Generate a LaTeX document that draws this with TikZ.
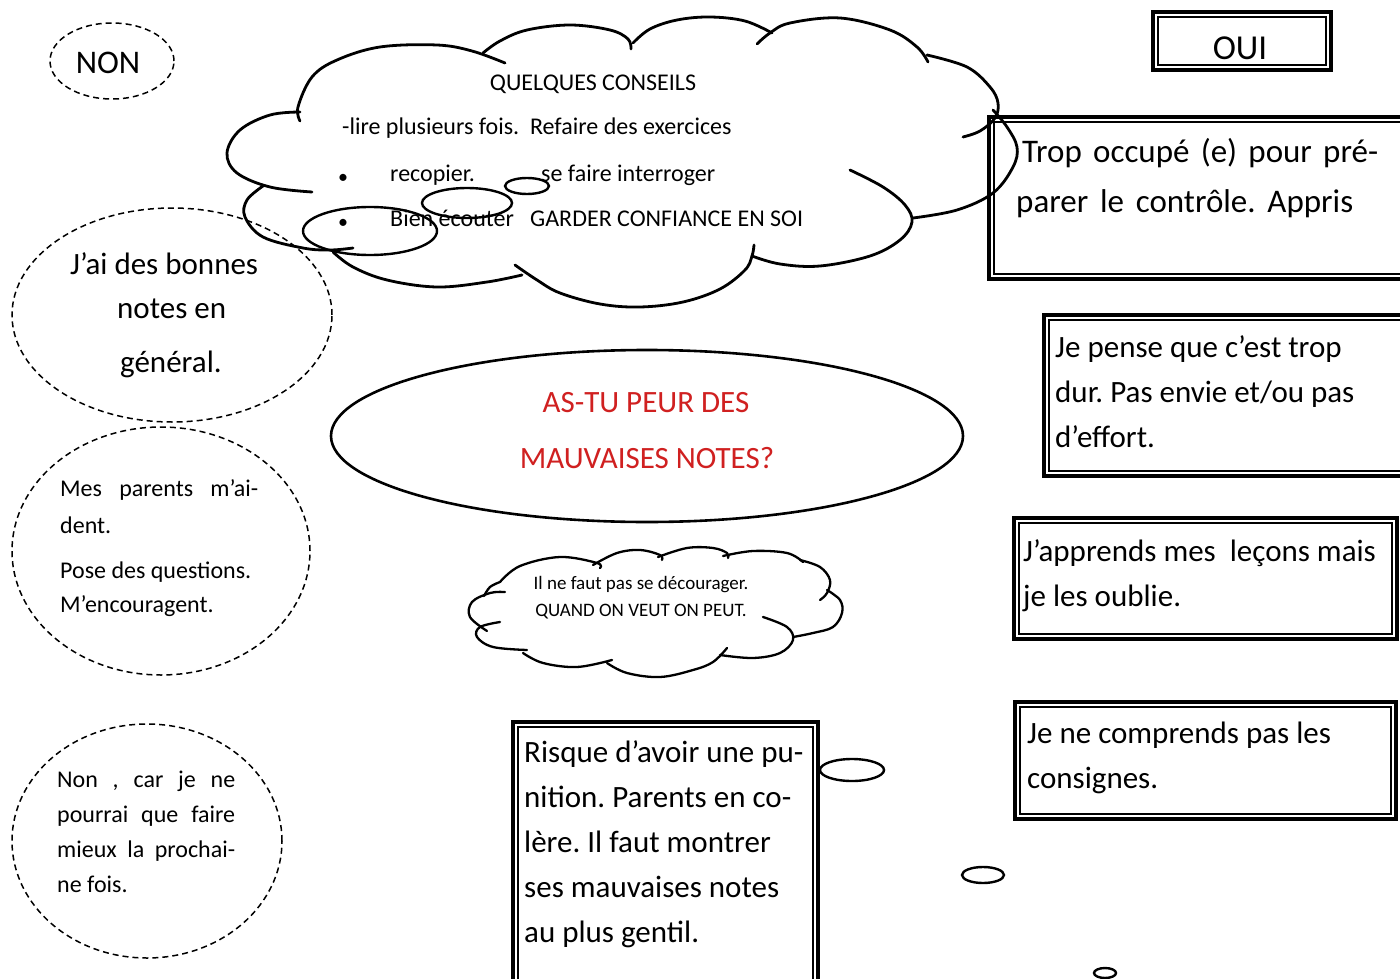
\documentclass[tikz,border=0pt]{standalone}
\usepackage{fontspec}
\setmainfont{Carlito}
\usetikzlibrary{shapes.geometric}
\definecolor{qred}{RGB}{208,32,32}
\frenchspacing
\begin{document}
\begin{tikzpicture}[x=1pt,y=-1pt,
 lobe/.style={line width=2.8pt, line cap=round, line join=round},
 slobe/.style={line width=2.3pt, line cap=round, line join=round},
 bub/.style={draw, ellipse, line width=2.4pt, inner sep=0pt, outer sep=0pt},
 dell/.style={draw, ellipse, dash pattern=on 6pt off 4pt, line width=1.5pt, inner sep=0pt, outer sep=0pt},
 mell/.style={draw, ellipse, line width=2.6pt, inner sep=0pt, outer sep=0pt},
 obox/.style={draw, rectangle, line width=3.6pt, inner sep=0pt, outer sep=0pt},
 ibox/.style={line width=1.3pt},
 big/.style={inner sep=0pt, font=\fontsize{31}{37}\selectfont},
 mid/.style={inner sep=0pt, font=\fontsize{24}{29}\selectfont},
 sml/.style={inner sep=0pt, font=\fontsize{19}{23}\selectfont},
 bw/.style={anchor=base west},
 bc/.style={anchor=base}]
\useasboundingbox (0,0) rectangle (1400,979);
\clip (0,0) rectangle (1400,979);
\fill[white] (0,0) rectangle (1400,979);

% ---------- left dashed ellipses ----------
\node[dell, minimum width=124pt, minimum height=76pt] (nonell) at (112,61) {};
\node[big, bc, font=\fontsize{33}{39}\selectfont] (non) at (108,74) {NON};

\node[dell, minimum width=320pt, minimum height=214pt] (goodell) at (172,315) {};
\node[big, bw] (g1) at (70,274) {J’ai des bonnes};
\node[big, bw] (g2) at (117,318) {notes en};
\node[big, bw] (g3) at (120,372) {général.};

\node[dell, minimum width=298pt, minimum height=248pt] (parell) at (161,551) {};
\node[mid, bw] (p1) at (60,496) {\makebox[198pt][s]{Mes parents m’ai-}};
\node[mid, bw] (p2) at (60,533) {dent.};
\node[mid, bw] (p3) at (60,578) {Pose des questions.};
\node[mid, bw] (p4) at (60,612) {M’encouragent.};

\node[dell, minimum width=270pt, minimum height=234pt] (carell) at (147,841) {};
\node[mid, bw] (c1) at (57,787) {\makebox[178pt][s]{Non , car je ne}};
\node[mid, bw] (c2) at (57,822) {\makebox[178pt][s]{pourrai que faire}};
\node[mid, bw] (c3) at (57,857) {\makebox[178pt][s]{mieux la prochai-}};
\node[mid, bw] (c4) at (57,892) {ne fois.};

% ---------- central ellipse ----------
\node[mell, minimum width=632pt, minimum height=172pt] (centre) at (647,436) {};
\node[big, bc, text=qred] (q1) at (646,412) {AS-TU PEUR DES};
\node[big, bc, text=qred] (q2) at (647,468) {MAUVAISES NOTES?};

% ---------- double boxes ----------
\node[obox, minimum width=178pt, minimum height=58pt] (oui) at (1242,41) {};
\draw[ibox] ([shift={(5,5)}]oui.north west) rectangle ([shift={(-5,-5)}]oui.south east);
\node[big, bc, font=\fontsize{35}{41}\selectfont] (ouit) at (1240,60) {OUI};

\node[obox, minimum width=441pt, minimum height=162pt] (trop) at (1209.5,198) {};
\draw[ibox] ([shift={(5,5)}]trop.north west) rectangle ([shift={(-5,-5)}]trop.south east);
\node[big, bw, font=\fontsize{33}{39}\selectfont] (t1) at (1022,162) {\makebox[356pt][s]{Trop occupé (e) pour pré-}};
\node[big, bw, font=\fontsize{33}{39}\selectfont] (t2) at (1016,212) {\makebox[337pt][s]{parer le contrôle. Appris}};

\node[obox, minimum width=386pt, minimum height=161pt] (pense) at (1237,395.5) {};
\draw[ibox] ([shift={(5,5)}]pense.north west) rectangle ([shift={(-5,-5)}]pense.south east);
\node[big, bw] (j1) at (1055,357) {Je pense que c’est trop};
\node[big, bw] (j2) at (1055,402) {dur. Pas envie et/ou pas};
\node[big, bw] (j3) at (1055,447) {d’effort.};

\node[obox, minimum width=383pt, minimum height=121pt] (appr) at (1205.5,578.5) {};
\draw[ibox] ([shift={(5,5)}]appr.north west) rectangle ([shift={(-5,-5)}]appr.south east);
\node[big, bw] (a1) at (1023,561) {J’apprends mes~ leçons mais};
\node[big, bw] (a2) at (1023,606) {je les oublie.};

\node[obox, minimum width=381pt, minimum height=117pt] (compr) at (1205.5,760.5) {};
\draw[ibox] ([shift={(5,5)}]compr.north west) rectangle ([shift={(-5,-5)}]compr.south east);
\node[big, bw] (k1) at (1027,743) {Je ne comprends pas les};
\node[big, bw] (k2) at (1027,788) {consignes.};

\node[obox, minimum width=305pt, minimum height=288pt] (risque) at (665.5,866) {};
\draw[ibox] ([shift={(5,5)}]risque.north west) rectangle ([shift={(-5,-5)}]risque.south east);
\node[big, bw] (r1) at (524,762) {Risque d’avoir une pu-};
\node[big, bw] (r2) at (524,807) {nition. Parents en co-};
\node[big, bw] (r3) at (524,852) {lère. Il faut montrer};
\node[big, bw] (r4) at (524,897) {ses mauvaises notes};
\node[big, bw] (r5) at (524,942) {au plus gentil.};

% small thought bubbles near the box
\node[bub, minimum width=64pt, minimum height=22pt] (rb1) at (852,770) {};
\node[bub, minimum width=42pt, minimum height=16pt] (rb2) at (983,875) {};
\node[bub, minimum width=22pt, minimum height=10pt] (rb3) at (1105,973) {};

% ---------- big cloud ----------
\draw[lobe] plot[smooth, tension=0.6] coordinates {(300,121) (298,107) (312,77) (337,60) (380,47) (437,45) (472,51) (505,63)};
\draw[lobe] plot[smooth, tension=0.6] coordinates {(483,53) (500,41) (527,30) (570,25) (610,30) (628,39) (631,49)};
\draw[lobe] plot[smooth, tension=0.6] coordinates {(633,43) (650,29) (677,20) (710,17) (745,21) (772,33)};
\draw[lobe] plot[smooth, tension=0.6] coordinates {(757,44) (770,33) (790,23) (840,18) (890,30) (917,47) (928,62)};
\draw[lobe] plot[smooth, tension=0.6] coordinates {(927,55) (967,67) (990,87) (998,103) (995,118) (980,131) (963,137)};
\draw[lobe] plot[smooth, tension=0.6] coordinates {(993,110) (1007,127) (1017,147) (1013,167) (993,193) (957,210) (913,218)};
\draw[lobe] plot[smooth, tension=0.6] coordinates {(850,170) (883,187) (905,205) (912,222) (900,240) (870,256) (820,266) (780,264) (752,256)};
\draw[lobe] plot[smooth, tension=0.6] coordinates {(515,265) (537,280) (560,293) (600,304) (640,307) (683,302) (720,289) (745,270) (752,256) (754,245)};
\draw[lobe] plot[smooth, tension=0.6] coordinates {(333,252) (353,267) (387,280) (437,287) (487,282) (522,275)};
\draw[lobe] plot[smooth, tension=0.6] coordinates {(263,186) (247,200) (245,217) (263,237) (303,248) (330,250) (353,248)};
\draw[lobe] plot[smooth, tension=0.6] coordinates {(300,112) (270,115) (240,130) (227,153) (237,173) (270,187) (312,192)};

\node[mid, bc] (cons) at (593,91) {QUELQUES CONSEILS};
\node[mid, bw] (l1) at (342,135) {-lire plusieurs fois.~ Refaire des exercices};
\node[mid, bw, font=\fontsize{20}{24}\selectfont] (bu1) at (338,183) {•};
\node[mid, bw] (l2) at (390,181) {recopier.};
\node[mid, bw] (l3) at (541,181) {se faire interroger};
\node[mid, bw, font=\fontsize{20}{24}\selectfont] (bu2) at (338,228) {•};
\node[mid, bw] (l4) at (390,226) {Bien écouter};
\node[mid, bw] (l5) at (530,226) {GARDER CONFIANCE EN SOI};

\node[bub, minimum width=134pt, minimum height=48pt] (cb1) at (370,231) {};
\node[bub, minimum width=90pt, minimum height=30pt] (cb2) at (467,203) {};
\node[bub, minimum width=44pt, minimum height=16pt] (cb3) at (527,186) {};

% ---------- small cloud ----------
\draw[slobe] plot[smooth, tension=0.6] coordinates {(500,582) (520,566) (560,557) (597,563) (600,568)};
\draw[slobe] plot[smooth, tension=0.6] coordinates {(593,565) (617,553) (640,550) (660,555) (662,560)};
\draw[slobe] plot[smooth, tension=0.6] coordinates {(658,557) (687,548) (713,548) (727,553) (728,558)};
\draw[slobe] plot[smooth, tension=0.6] coordinates {(723,556) (753,551) (787,553) (803,562)};
\draw[slobe] plot[smooth, tension=0.6] coordinates {(800,560) (820,567) (830,580) (827,593) (820,600)};
\draw[slobe] plot[smooth, tension=0.6] coordinates {(827,590) (840,600) (842,613) (833,627) (813,633) (793,637)};
\draw[slobe] plot[smooth, tension=0.6] coordinates {(763,617) (787,627) (793,640) (780,653) (753,658) (720,655)};
\draw[slobe] plot[smooth, tension=0.6] coordinates {(727,648) (713,662) (693,670) (660,677) (627,673) (607,663)};
\draw[slobe] plot[smooth, tension=0.6] coordinates {(612,660) (577,667) (543,663) (523,653)};
\draw[slobe] plot[smooth, tension=0.6] coordinates {(527,650) (493,647) (477,637) (480,627) (500,622)};
\draw[slobe] plot[smooth, tension=0.6] coordinates {(487,631) (470,617) (472,602) (490,593) (505,592)};
\draw[slobe] plot[smooth, tension=0.6] coordinates {(484,596) (490,587) (500,582)};
\node[sml, bc] (s1) at (641,589) {Il ne faut pas se décourager.};
\node[sml, bc] (s2) at (641,616) {QUAND ON VEUT ON PEUT.};
\end{tikzpicture}
\end{document}
